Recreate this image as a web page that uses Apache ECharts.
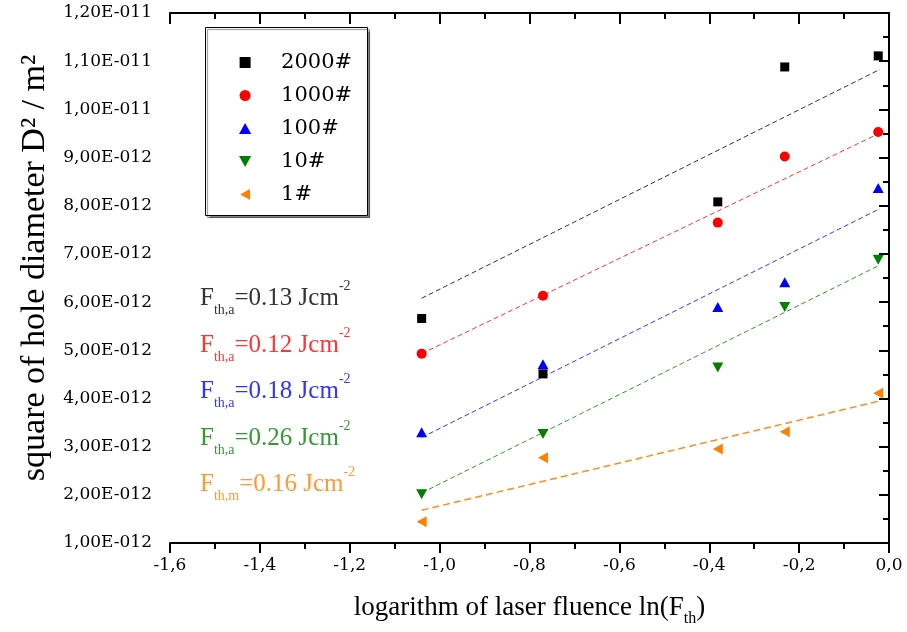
<!DOCTYPE html>
<html><head><meta charset="utf-8">
<script src="https://cdn.jsdelivr.net/npm/echarts@6/dist/echarts.min.js"></script>
<style>html,body{margin:0;padding:0;background:#fff}#c{width:907px;height:632px}</style>
</head><body><div id="c"></div>
<script>
// ---- data ----
const xValues = [-1.04, -0.77, -0.381, -0.232, -0.024];
const s2000 = [5.66e-12, 4.51e-12, 8.08e-12, 1.088e-11, 1.111e-11];
const s1000 = [4.93e-12, 6.13e-12, 7.65e-12, 9.02e-12, 9.53e-12];
const s100  = [3.30e-12, 4.71e-12, 5.90e-12, 6.41e-12, 8.37e-12];
const s10   = [2.01e-12, 3.26e-12, 4.64e-12, 5.90e-12, 6.88e-12];
const s1    = [1.44e-12, 2.77e-12, 2.95e-12, 3.31e-12, 4.11e-12];

const fitX    = [-1.04, -0.02];
const fit2000 = [6.08e-12, 1.083e-11];
const fit1000 = [4.93e-12, 9.51e-12];
const fit100  = [3.19e-12, 7.94e-12];
const fit10   = [2.04e-12, 6.77e-12];
const fit1    = [1.68e-12, 3.95e-12];

const seriesNames = ['2000#', '1000#', '100#', '10#', '1#'];
const fluenceValues = ['0.13', '0.12', '0.18', '0.26', '0.16'];
const fluenceSubs = ['th,a', 'th,a', 'th,a', 'th,a', 'th,m'];

const xTickLabels = ['-1,6','-1,4','-1,2','-1,0','-0,8','-0,6','-0,4','-0,2','0,0'];
const yTickLabels = ['1,00E-012','2,00E-012','3,00E-012','4,00E-012','5,00E-012','6,00E-012',
  '7,00E-012','8,00E-012','9,00E-012','1,00E-011','1,10E-011','1,20E-011'];

// ---- styles ----
const markerColors = ['#000000', '#ff0000', '#0000ff', '#008000', '#ff8000'];
const lineColors = ['#333333', '#ff3333', '#3333ff', '#339933', '#ff8c1a'];
const textColors = ['#333333', '#ff3333', '#3333ff', '#339933', '#ff9933'];
const symbols = ['path://M0,0L10,0L10,10L0,10Z', 'circle', 'path://M5,0L10,9L0,9Z', 'path://M0,0L10,0L5,9Z', 'path://M9,0L9,10L0,5Z'];
const symbolSizes = [9, 10, [11, 10], [11, 10], [10, 11]];
const seriesData = [s2000, s1000, s100, s10, s1];
const fitData = [fit2000, fit1000, fit100, fit10, fit1];
const rowY = [298, 345, 391, 438, 484];

const serif = '"Liberation Serif", "Times New Roman", serif';
const wideSerif = '"DejaVu Serif", serif';

const series = [];
fitData.forEach((f, i) => {
  series.push({
    type: 'line', name: 'fit' + i, silent: true, symbol: 'none',
    data: fitX.map((x, k) => [x, f[k]]),
    lineStyle: { color: lineColors[i], width: i === 4 ? 1.5 : 1, type: i === 4 ? [7, 4] : [5, 3] },
    z: 2
  });
});
seriesData.forEach((d, i) => {
  series.push({
    type: 'scatter', name: seriesNames[i],
    data: xValues.map((x, k) => [x, d[k]]),
    symbol: symbols[i], symbolSize: symbolSizes[i],
    itemStyle: { color: markerColors[i], opacity: 1 },
    z: 3
  });
});

const graphics = [{
  type: 'rect', left: 205, top: 27, z: 0,
  shape: { width: 162, height: 188 },
  style: { fill: '#fff', stroke: '#000', lineWidth: 1, shadowColor: 'rgba(0,0,0,0.45)', shadowOffsetX: 2, shadowOffsetY: 2, shadowBlur: 1 }
}];
fluenceValues.forEach((v, i) => {
  graphics.push({
    type: 'text', x: 200, y: rowY[i], z: 10,
    style: {
      text: '{m|F}{s|' + fluenceSubs[i] + '}{m|=' + v + ' Jcm}{p|-2}',
      verticalAlign: 'middle', textVerticalAlign: 'middle',
      rich: {
        m: { fontFamily: serif, fontSize: 25, lineHeight: 38, fill: textColors[i], color: textColors[i], verticalAlign: 'middle' },
        s: { fontFamily: serif, fontSize: 14, fill: textColors[i], color: textColors[i], verticalAlign: 'bottom' },
        p: { fontFamily: serif, fontSize: 14, fill: textColors[i], color: textColors[i], verticalAlign: 'top' }
      }
    }
  });
});

const axisLine = { show: true, lineStyle: { color: '#000', width: 2 } };

const option = {
  animation: false,
  backgroundColor: '#fff',
  grid: { left: 170, right: 18, top: 13, bottom: 89, containLabel: false },
  legend: {
    data: seriesNames.map((n, i) => ({ name: n, icon: symbols[i] })),
    orient: 'vertical', left: 239, top: 52,
    itemWidth: 62, itemHeight: 11, itemGap: 12, padding: 0,
    symbolKeepAspect: true,
    textStyle: { fontFamily: wideSerif, fontSize: 21, color: '#000', lineHeight: 20, padding: [0, 0, 0, 0] },
    selectedMode: false, z: 5
  },
  xAxis: [{
    type: 'value', position: 'bottom', min: -1.6, max: 0, interval: 0.2,
    axisLine: axisLine,
    axisTick: { show: true, inside: false, length: 10, lineStyle: { color: '#000', width: 2 } },
    minorTick: { show: true, splitNumber: 2, length: 6, lineStyle: { color: '#000', width: 2 } },
    splitLine: { show: false },
    axisLabel: { margin: 14, fontFamily: wideSerif, fontSize: 17, color: '#000',
      formatter: v => xTickLabels[Math.round((v + 1.6) / 0.2)] },
    name: '{a|logarithm of laser fluence ln(F}{s|th}{a|)}',
    nameLocation: 'middle', nameGap: 46,
    nameTextStyle: {
      rich: {
        a: { fontFamily: serif, fontSize: 27, lineHeight: 38, color: '#000', verticalAlign: 'middle' },
        s: { fontFamily: serif, fontSize: 16, color: '#000', verticalAlign: 'bottom' }
      }
    }
  }, {
    type: 'value', position: 'top', min: -1.6, max: 0, interval: 0.2,
    axisLine: axisLine,
    axisTick: { show: true, inside: true, length: 11, lineStyle: { color: '#000', width: 2 } },
    minorTick: { show: true, splitNumber: 2, length: 6, lineStyle: { color: '#000', width: 2 } },
    splitLine: { show: false }, axisLabel: { show: false }
  }],
  yAxis: [{
    type: 'value', position: 'left', min: 1e-12, max: 1.2e-11, interval: 1e-12,
    axisLine: axisLine,
    axisTick: { show: true, inside: false, length: 10, lineStyle: { color: '#000', width: 2 } },
    minorTick: { show: true, splitNumber: 2, length: 6, lineStyle: { color: '#000', width: 2 } },
    splitLine: { show: false },
    axisLabel: { margin: 18, fontFamily: wideSerif, fontSize: 17, color: '#000',
      formatter: v => yTickLabels[Math.round(v / 1e-12) - 1] },
    name: 'square of hole diameter D² / m²',
    nameLocation: 'middle', nameGap: 118, nameRotate: 90,
    nameTextStyle: { fontFamily: serif, fontSize: 34, color: '#000', padding: [0, 0, 0, 20] }
  }, {
    type: 'value', position: 'right', min: 1e-12, max: 1.2e-11, interval: 1e-12,
    axisLine: axisLine,
    axisTick: { show: true, inside: true, length: 10, lineStyle: { color: '#000', width: 2 } },
    minorTick: { show: true, splitNumber: 2, length: 5, lineStyle: { color: '#000', width: 2 } },
    splitLine: { show: false }, axisLabel: { show: false }
  }],
  graphic: graphics,
  series: series
};

const chart = echarts.init(document.getElementById('c'), null, { renderer: 'canvas' });
chart.setOption(option);
</script>
</body></html>
